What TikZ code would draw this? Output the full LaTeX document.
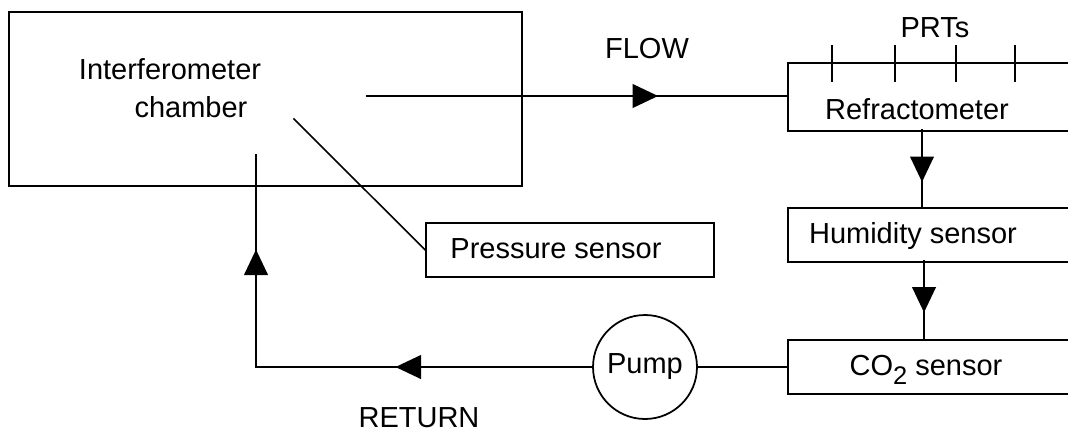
\documentclass[tikz,border=0pt]{standalone}
\usepackage{fontspec}
\setmainfont{Liberation Sans}
\usetikzlibrary{arrows.meta,positioning,decorations.markings}

\tikzset{
  flowtip/.tip={Triangle[length=14.5pt,width=13.5pt]},
  pipe/.style={line width=1.1pt},
  box/.style={draw,line width=1.1pt,inner sep=0pt,anchor=north west},
  lbl/.style={inner sep=0pt,anchor=base},
  midarrow/.style={postaction={decorate},
    decoration={markings,mark=at position #1 with {\arrow{flowtip}}}}
}
\newcommand{\lowtwo}{\raisebox{-5.5pt}{\fontsize{14.5}{14.5}\selectfont 2}}

\begin{document}
\begin{tikzpicture}[x=0.02cm,y=-0.02cm,line cap=rect,
    font=\fontsize{16.5}{19.8}\selectfont]
  \useasboundingbox (0,0) rectangle (1068,433);
  \clip (0,0) rectangle (1068,433);

  % boxes
  \node[box,minimum width=10.26cm,minimum height=3.48cm] (chamber) at (8,11) {};
  \node[box,minimum width=6.6cm,minimum height=1.36cm] (refr) at (787,62) {};
  \node[box,minimum width=6.6cm,minimum height=1.08cm] (humid) at (787,207) {};
  \node[box,minimum width=6.6cm,minimum height=1.08cm] (co2) at (787,339) {};
  \node[box,line width=0.9pt,minimum width=5.76cm,minimum height=1.08cm] (press) at (425,222) {};
  \node[draw,circle,line width=1pt,minimum size=2.08cm,inner sep=0pt] (pump) at (645,367) {Pump};

  % texts
  \node[lbl] (chtop) at (170,79) {Interferometer};
  \node[lbl] (chbot) at (191,117) {chamber};
  \node[lbl] (refrtxt) at (917,119) {Refractometer};
  \node[lbl] (humidtxt) at (913,243) {Humidity sensor};
  \node[lbl] (co2txt) at (926,375) {CO\lowtwo\ sensor};
  \node[lbl] (presstxt) at (556,258) {Pressure sensor};
  \node[lbl] (flowtxt) at (647,58) {FLOW};
  \node[lbl] (prttxt) at (935,37) {PRTs};
  \node[lbl] (rettxt) at (419,427) {RETURN};

  % pipe ends inside the chamber
  \coordinate (flowout) at (367,96);
  \coordinate (retin) at (256,154);
  \coordinate (ptap) at (294,119);

  % PRTs
  \foreach \x in {832,895,956,1015}{ \draw[pipe] (\x,46) -- (\x,81); }

  % connectors
  \draw[pipe,midarrow=0.693] (flowout) -- (flowout -| refr.west);
  \draw[pipe,midarrow=0.675] (922,130) -- (922,207);
  \draw[pipe,midarrow=0.66] (924,261) -- (924,339);
  \draw[pipe] (co2.west |- pump) -- (pump.east);
  \draw[pipe,line cap=butt,postaction={decorate},
    decoration={markings,mark=at position 0.358 with {\arrow{flowtip}},
      mark=at position 0.826 with {\arrow{flowtip}}}]
    (pump.west) -| (retin);
  \draw[line width=0.9pt] (ptap) -- (press.west);
\end{tikzpicture}
\end{document}
